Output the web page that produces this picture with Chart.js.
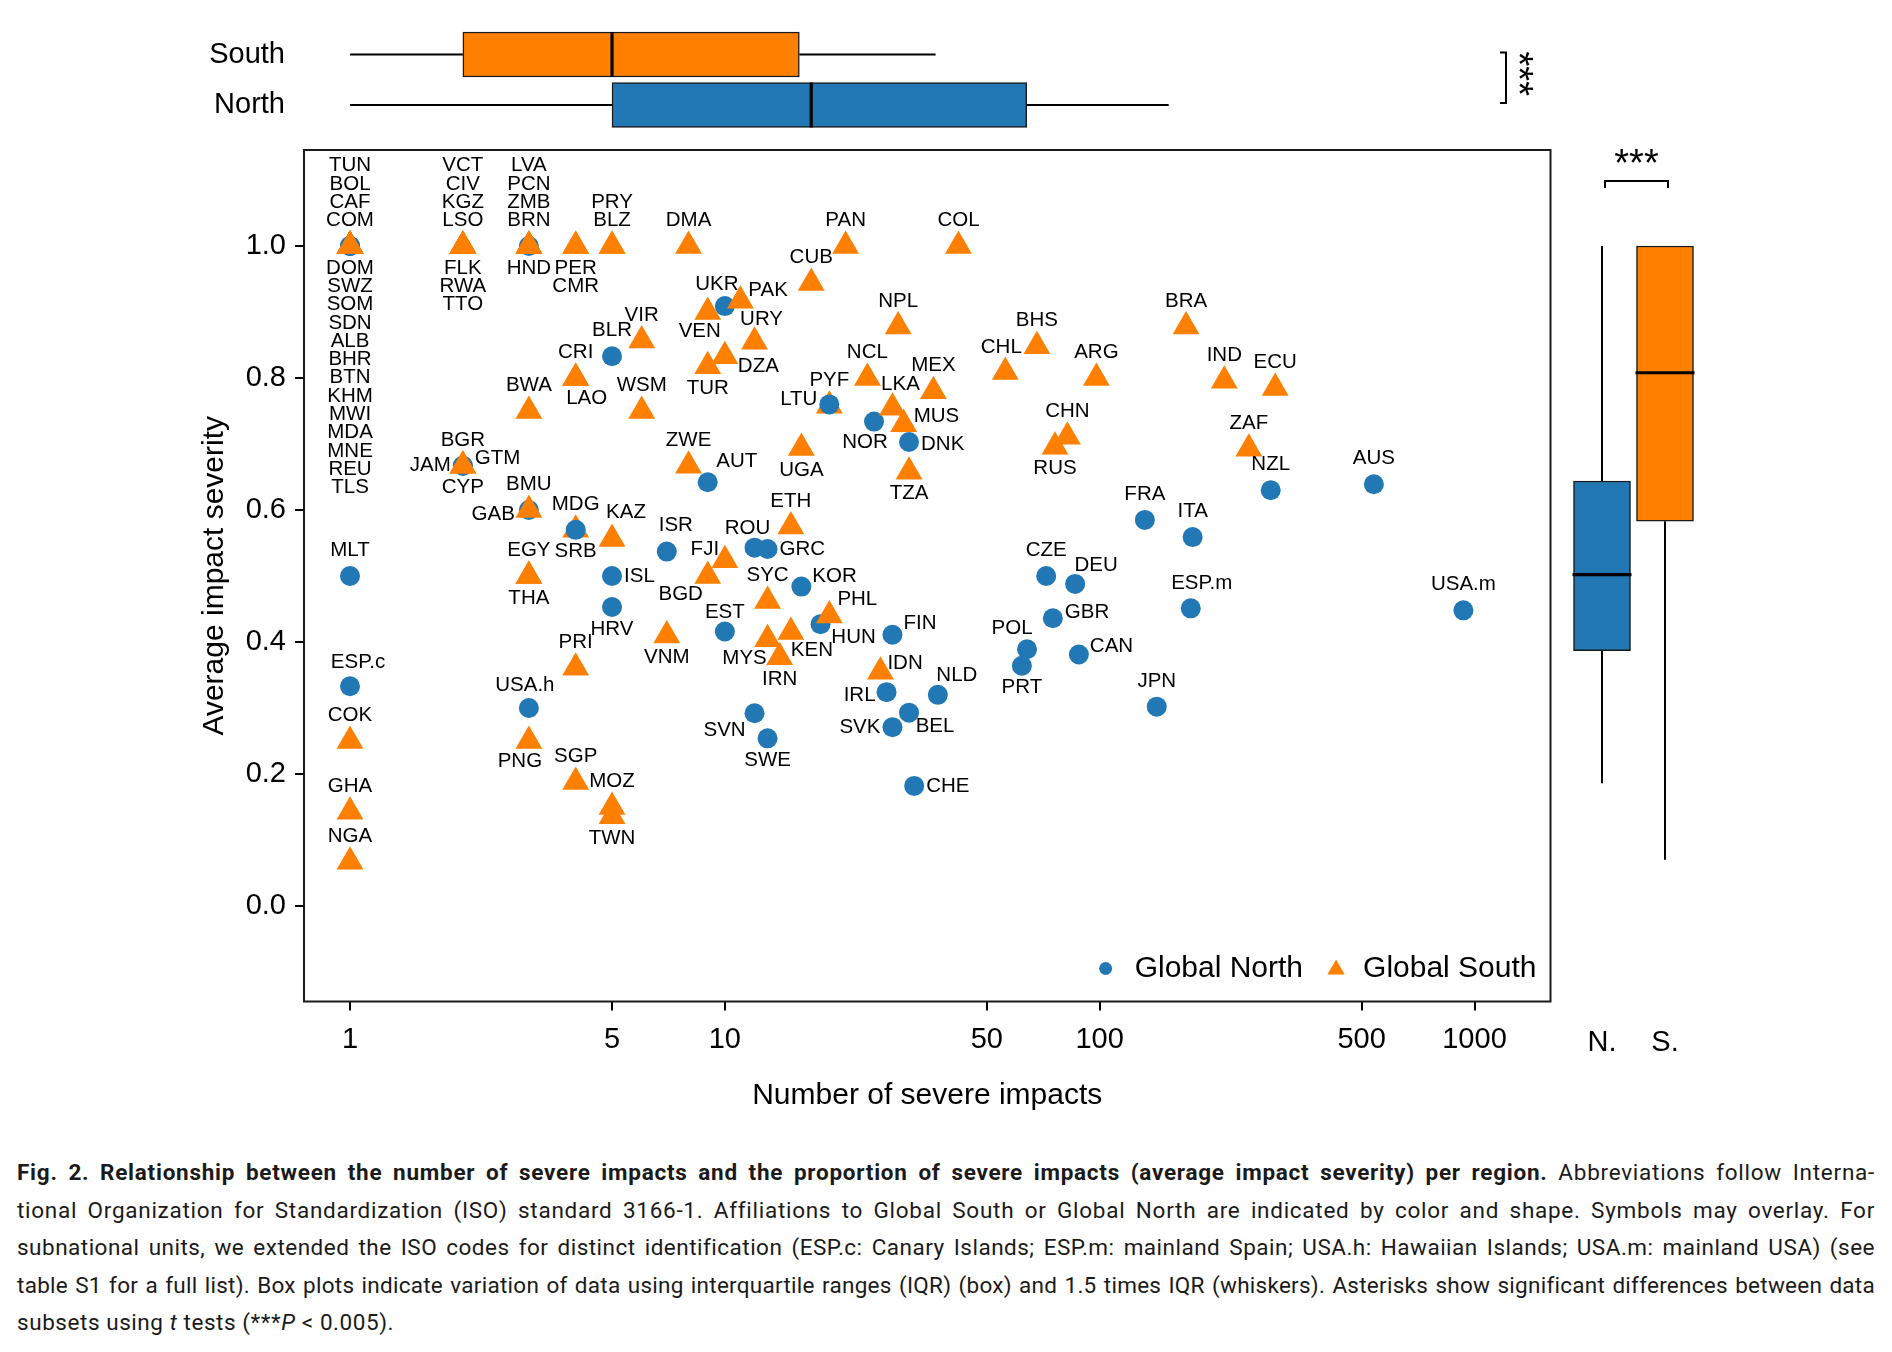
<!DOCTYPE html>
<html>
<head>
<meta charset="utf-8">
<script src="https://cdn.jsdelivr.net/npm/chart.js@4.4.0/dist/chart.umd.min.js"></script>
<style>
  html, body { margin: 0; padding: 0; background: #fff; }
  #fig { position: relative; width: 1892px; height: 1352px; overflow: hidden; background: #fff; }
  #mainWrap { position: absolute; left: 0; top: 0; width: 1892px; height: 1130px; }
  #topWrap { position: absolute; left: 0; top: 0; width: 1892px; height: 150px; }
  #sideWrap { position: absolute; left: 1560px; top: 0; width: 332px; height: 1130px; }
  #caption { position: absolute; left: 17px; top: 1154px; width: 1859px; font-family: Roboto, "Liberation Sans", sans-serif; font-size: 22.5px; color: #1a1a1a; }
  .cap-line { height: 37.5px; line-height: 37.5px; white-space: nowrap; }
  .cap-line span { display: inline-block; white-space: nowrap; }
</style>
</head>
<body>
<div id="fig">
  <div id="mainWrap"><canvas id="mainChart"></canvas></div>
  <div id="topWrap"><canvas id="topChart"></canvas></div>
  <div id="sideWrap"><canvas id="sideChart"></canvas></div>
  <div id="caption">
    <div class="cap-line"><span><b>Fig. 2. Relationship between the number of severe impacts and the proportion of severe impacts (average impact severity) per region.</b> Abbreviations follow Interna-</span></div>
    <div class="cap-line"><span>tional Organization for Standardization (ISO) standard 3166-1. Affiliations to Global South or Global North are indicated by color and shape. Symbols may overlay. For</span></div>
    <div class="cap-line"><span>subnational units, we extended the ISO codes for distinct identification (ESP.c: Canary Islands; ESP.m: mainland Spain; USA.h: Hawaiian Islands; USA.m: mainland USA) (see</span></div>
    <div class="cap-line"><span>table S1 for a full list). Box plots indicate variation of data using interquartile ranges (IQR) (box) and 1.5 times IQR (whiskers). Asterisks show significant differences between data</span></div>
    <div class="cap-line last"><span>subsets using <i>t</i> tests (***<i>P</i> &lt; 0.005).</span></div>
  </div>
</div>
<script>
// ---- data ----
const codes = [
  'TUN','BOL','CAF','COM','DOM','SWZ','SOM','SDN','ALB','BHR','BTN','KHM','MWI','MDA','MNE','REU','TLS',
  'MLT','ESP.c','COK','GHA','NGA',
  'VCT','CIV','KGZ','LSO','FLK','RWA','TTO','BGR','CYP','JAM','GTM',
  'LVA','PCN','ZMB','BRN','HND','BWA','BMU','GAB','EGY','THA','USA.h','PNG',
  'PER','CMR','CRI','LAO','MDG','SRB','PRI','SGP',
  'PRY','BLZ','BLR','KAZ','ISL','HRV','MOZ','TWN',
  'VIR','WSM','ISR','VNM','DMA','ZWE',
  'VEN','TUR','AUT','BGD','UKR','DZA','FJI','EST','PAK',
  'URY','ROU','SVN','GRC','SYC','MYS','SWE','IRN','ETH','KEN','UGA','KOR','CUB','HUN',
  'PYF','LTU','PHL','PAN','NCL','NOR','IDN','IRL','LKA','FIN','SVK','NPL','MUS','DNK','TZA','BEL','CHE',
  'MEX','NLD','COL','CHL','PRT','POL','BHS','CZE','GBR','RUS','CHN','DEU','CAN','ARG',
  'FRA','JPN','BRA','ESP.m','ITA','IND','ZAF','NZL','ECU','AUS','USA.m'
];
const region = [
  'S','S','S','S','S','S','S','S','N','S','S','S','S','N','N','S','S',
  'N','N','S','S','S',
  'S','S','S','S','S','S','S','N','N','S','S',
  'N','S','S','S','S','S','N','S','S','S','N','S',
  'S','S','S','S','S','N','S','S',
  'S','S','N','S','N','N','S','S',
  'S','S','N','S','S','S',
  'S','S','N','S','N','S','S','N','S',
  'S','N','N','N','S','S','N','S','S','S','S','N','S','N',
  'S','N','S','S','S','N','S','N','S','N','N','S','S','N','S','N','N',
  'S','N','S','S','N','N','S','N','N','S','S','N','N','S',
  'N','N','S','N','N','S','S','N','S','N','N'
];
const impacts = [
  1,1,1,1,1,1,1,1,1,1,1,1,1,1,1,1,1,
  1,1,1,1,1,
  2,2,2,2,2,2,2,2,2,2,2,
  3,3,3,3,3,3,3,3,3,3,3,3,
  4,4,4,4,4,4,4,4,
  5,5,5,5,5,5,5,5,
  6,6,7,7,8,8,
  9,9,9,9,10,10,10,10,11,
  12,12,12,13,13,13,13,14,15,15,16,16,17,18,
  19,19,19,21,24,25,26,27,28,28,28,29,30,31,31,31,32,
  36,37,42,56,62,64,68,72,75,76,82,86,88,98,
  132,142,170,175,177,215,250,286,294,539,934
];
const severity = [
  1,1,1,1,1,1,1,1,1,1,1,1,1,1,1,1,1,
  0.5,0.333,0.25,0.143,0.067,
  1,1,1,1,1,1,1,0.667,0.667,0.667,0.667,
  1,1,1,1,1,0.75,0.6,0.6,0.5,0.5,0.3,0.25,
  1,1,0.8,0.8,0.57,0.57,0.361,0.188,
  1,1,0.833,0.556,0.5,0.453,0.15,0.136,
  0.857,0.75,0.537,0.41,1,0.667,
  0.9,0.818,0.642,0.5,0.909,0.833,0.524,0.416,0.917,
  0.855,0.543,0.292,0.541,0.462,0.404,0.254,0.377,0.575,0.415,0.694,0.484,0.944,0.427,
  0.758,0.76,0.44,1,0.8,0.734,0.355,0.324,0.755,0.411,0.271,0.878,0.73,0.703,0.658,0.293,0.182,
  0.78,0.32,1,0.809,0.364,0.389,0.848,0.5,0.436,0.696,0.711,0.488,0.381,0.8,
  0.585,0.302,0.878,0.451,0.559,0.796,0.693,0.63,0.785,0.639,0.448
];

const xTicks = [1, 5, 10, 50, 100, 500, 1000];
const yTicks = [0, 0.2, 0.4, 0.6, 0.8, 1.0];

// box plot of number of severe impacts (top)
const topGroups = ['South', 'North'];
const topMin = [1, 1];
const topQ1 = [2.0, 5];
const topMedian = [5, 17];
const topQ3 = [15.8, 63.9];
const topMax = [36.5, 152.8];

// box plot of average impact severity (right)
const sideGroups = ['N.', 'S.'];
const sideMin = [0.186, 0.07];
const sideQ1 = [0.387, 0.583];
const sideMedian = [0.502, 0.808];
const sideQ3 = [0.644, 1.0];
const sideMax = [1.0, 1.0];

// ---- layout / style ----
const BLUE = '#2178b4';
const ORANGE = '#ff7f00';
const FONT = '"Liberation Sans", Arial, sans-serif';
const X_RANGE = [0.7537, 1595];
const Y_RANGE = [-0.1447, 1.1455];

// where each country label sits relative to its symbol; default is above
const labelPlacement = {
  DOM:'b', SWZ:'b', SOM:'b', SDN:'b', ALB:'b', BHR:'b', BTN:'b', KHM:'b', MWI:'b', MDA:'b', MNE:'b', REU:'b', TLS:'b',
  FLK:'b', RWA:'b', TTO:'b', CYP:'b', HND:'b', THA:'b', PER:'b', CMR:'b', SRB:'b', HRV:'b', TWN:'b',
  VNM:'b', TUR:'b', SWE:'b', IRN:'b', UGA:'b', TZA:'b', PRT:'b', RUS:'b',
  JAM:'l', SVK:'l', LTU:['l',-12,-5], IRL:['l',-11,3], GAB:['l',-14,4],
  ISL:'r', GRC:'r', CHE:'r', GTM:['r',12,-7], DZA:['r',13,10], PAK:['r',8,-10], KOR:['r',11,-10],
  IDN:['r',7,-8], FIN:['r',11,-11], MUS:['r',10,-8], DNK:['r',12,2], GBR:['r',12,-6], CAN:['r',11,-8],
  'ESP.c':['c',8,-24], 'USA.h':['c',-4,-23], PNG:['c',-9,20], LAO:['c',11,20], KAZ:['c',14,-27],
  ISR:['c',9,-26], VEN:['c',-8,19], AUT:['c',29,-21], BGD:['c',-27,18], UKR:['c',-8,-22],
  FJI:['c',-20,-11], EST:['c',0,-19], URY:['c',7,-22], ROU:['c',-7,-19], SVN:['c',-30,17],
  MYS:['c',-23,19], KEN:['c',21,18], HUN:['c',33,13], PHL:['c',28,-16], NOR:['c',-9,21],
  LKA:['c',8,-23], BEL:['c',26,14], NLD:['c',19,-19], CHL:['c',-4,-25], POL:['c',-15,-21],
  DEU:['c',21,-19], 'ESP.m':['c',11,-25]
};
const SIDES = { t: ['c', 0, -25.5], b: ['c', 0, 22], l: ['l', -12, 0], r: ['r', 12, 0] };
const LINE = 18.3;

Chart.defaults.font.family = FONT;
Chart.defaults.color = '#000';

function drawMarker(ctx, style, radius, color, x, y) {
  ctx.fillStyle = color;
  if (Chart.helpers && Chart.helpers.drawPoint) {
    Chart.helpers.drawPoint(ctx, { pointStyle: style, radius: radius, rotation: 0, borderWidth: 0 }, x, y);
  } else {
    ctx.beginPath();
    if (style === 'circle') ctx.arc(x, y, radius, 0, Math.PI * 2);
    else { ctx.moveTo(x, y - radius); ctx.lineTo(x + radius * 0.866, y + radius / 2); ctx.lineTo(x - radius * 0.866, y + radius / 2); }
    ctx.fill();
  }
}

// nudge layout padding until the plot area sits where the figure has it
function pinArea(chart, want) {
  for (let k = 0; k < 4; k++) {
    const a = chart.chartArea;
    const p = Object.assign({}, chart.options.layout.padding);
    const d = { top: want.top - a.top, bottom: a.bottom - want.bottom, left: want.left - a.left, right: a.right - want.right };
    if (Math.abs(d.top) + Math.abs(d.bottom) + Math.abs(d.left) + Math.abs(d.right) < 0.5) break;
    chart.options.layout.padding = { top: p.top + d.top, bottom: p.bottom + d.bottom, left: p.left + d.left, right: p.right + d.right };
    chart.update('none');
  }
}

const framePlugin = {
  id: 'frame',
  afterDraw(chart) {
    const { ctx, chartArea: a } = chart;
    ctx.save();
    ctx.strokeStyle = '#1a1a1a';
    ctx.lineWidth = 2;
    ctx.strokeRect(a.left, a.top, a.right - a.left, a.bottom - a.top);
    ctx.restore();
  }
};

const countryLabels = {
  id: 'countryLabels',
  afterDatasetsDraw(chart) {
    const { ctx } = chart;
    const xs = chart.scales.x, ys = chart.scales.y;
    const sideOf = c => labelPlacement[c] || 't';
    const keyOf = i => impacts[i] + '|' + severity[i] + '|' + sideOf(codes[i]);
    const counts = {}, seen = {};
    codes.forEach((c, i) => { const k = keyOf(i); counts[k] = (counts[k] || 0) + 1; });
    ctx.save();
    ctx.font = '20.5px ' + FONT;
    ctx.fillStyle = '#000';
    ctx.textBaseline = 'middle';
    codes.forEach((c, i) => {
      const px = xs.getPixelForValue(impacts[i]);
      const py = ys.getPixelForValue(severity[i]);
      const side = sideOf(c);
      const p = typeof side === 'string' ? SIDES[side] : side;
      let dy = p[2];
      if (typeof side === 'string') {
        const k = keyOf(i);
        const n = counts[k];
        const idx = seen[k] || 0;
        seen[k] = idx + 1;
        if (side === 't') dy -= (n - 1 - idx) * LINE;
        if (side === 'b') dy += idx * LINE;
      }
      ctx.textAlign = p[0] === 'c' ? 'center' : (p[0] === 'l' ? 'right' : 'left');
      ctx.fillText(c, px + p[1], py + dy);
    });
    ctx.restore();
  }
};

const legendPlugin = {
  id: 'cornerLegend',
  afterDraw(chart) {
    const { ctx, chartArea: a } = chart;
    ctx.save();
    ctx.font = '30px ' + FONT;
    ctx.textBaseline = 'middle';
    ctx.textAlign = 'left';
    const y = a.bottom - 33;
    const wS = ctx.measureText('Global South').width;
    const wN = ctx.measureText('Global North').width;
    const xS = a.right - 14 - wS;
    const triX = xS - 27;
    const xN = triX - 33 - wN;
    const circX = xN - 29;
    drawMarker(ctx, 'circle', 6.5, BLUE, circX, y);
    drawMarker(ctx, 'triangle', 10, ORANGE, triX, y + 1);
    ctx.fillStyle = '#000';
    ctx.fillText('Global North', xN, y);
    ctx.fillText('Global South', xS, y);
    ctx.restore();
  }
};

// main scatter
const mainChart = new Chart(document.getElementById('mainChart'), {
  type: 'scatter',
  data: {
    datasets: [{
      data: impacts.map((v, i) => ({ x: v, y: severity[i] })),
      pointStyle: ctx => region[ctx.dataIndex] === 'N' ? 'circle' : 'triangle',
      radius: ctx => region[ctx.dataIndex] === 'N' ? 10 : 15.5,
      backgroundColor: ctx => region[ctx.dataIndex] === 'N' ? BLUE : ORANGE,
      borderWidth: 0,
      hoverRadius: ctx => region[ctx.dataIndex] === 'N' ? 10 : 15.5
    }]
  },
  options: {
    responsive: true,
    maintainAspectRatio: false,
    animation: false,
    layout: { padding: { left: 193, right: 341.5, top: 150, bottom: 12 } },
    plugins: { legend: { display: false }, tooltip: { enabled: false } },
    scales: {
      x: {
        type: 'logarithmic',
        min: X_RANGE[0], max: X_RANGE[1],
        afterBuildTicks: s => { s.ticks = xTicks.map(v => ({ value: v })); },
        afterFit: s => { s.height = 116.5; },
        grid: { drawOnChartArea: false, drawTicks: true, tickLength: 9, color: '#000', lineWidth: 2 },
        border: { display: false },
        ticks: { font: { size: 29 }, color: '#000', padding: 12, autoSkip: false, maxRotation: 0, callback: v => String(v) },
        title: { display: true, text: 'Number of severe impacts', font: { size: 30 }, color: '#000', padding: { top: 0, bottom: 4 } }
      },
      y: {
        min: Y_RANGE[0], max: Y_RANGE[1],
        afterBuildTicks: s => { s.ticks = yTicks.map(v => ({ value: v })); },
        afterFit: s => { s.width = 111; },
        grid: { drawOnChartArea: false, drawTicks: true, tickLength: 9, color: '#000', lineWidth: 2 },
        border: { display: false },
        ticks: { font: { size: 29 }, color: '#000', padding: 9, callback: v => Number(v).toFixed(1) },
        title: { display: true, text: 'Average impact severity', font: { size: 30 }, color: '#000', padding: { top: 4, bottom: 0 } }
      }
    }
  },
  plugins: [framePlugin, countryLabels, legendPlugin]
});
pinArea(mainChart, { left: 304, right: 1550.5, top: 150, bottom: 1001.5 });

// whiskers + medians for the floating-bar box plots
function boxParts(horizontal, mins, medians, q1s, q3s, maxs, half) {
  return {
    id: 'boxParts',
    beforeDatasetsDraw(chart) {
      const { ctx } = chart;
      const vs = horizontal ? chart.scales.x : chart.scales.y;
      const cs = horizontal ? chart.scales.y : chart.scales.x;
      ctx.save();
      ctx.strokeStyle = '#000';
      ctx.lineWidth = 2;
      mins.forEach((m, i) => {
        const c = cs.getPixelForValue(i);
        const segs = [[m, q1s[i]], [q3s[i], maxs[i]]];
        segs.forEach(([a, b]) => {
          const pa = vs.getPixelForValue(a), pb = vs.getPixelForValue(b);
          ctx.beginPath();
          if (horizontal) { ctx.moveTo(pa, c); ctx.lineTo(pb, c); }
          else { ctx.moveTo(c, pa); ctx.lineTo(c, pb); }
          ctx.stroke();
        });
      });
      ctx.restore();
    },
    afterDatasetsDraw(chart) {
      const { ctx } = chart;
      const vs = horizontal ? chart.scales.x : chart.scales.y;
      const cs = horizontal ? chart.scales.y : chart.scales.x;
      ctx.save();
      ctx.strokeStyle = '#000';
      ctx.lineWidth = 3.2;
      medians.forEach((m, i) => {
        const c = cs.getPixelForValue(i);
        const p = vs.getPixelForValue(m);
        ctx.beginPath();
        if (horizontal) { ctx.moveTo(p, c - half); ctx.lineTo(p, c + half); }
        else { ctx.moveTo(c - half, p); ctx.lineTo(c + half, p); }
        ctx.stroke();
      });
      ctx.restore();
    }
  };
}

const topSig = {
  id: 'topSig',
  afterDraw(chart) {
    const { ctx } = chart;
    const ys = chart.scales.y;
    const y1 = ys.getPixelForValue(0) - 2, y2 = ys.getPixelForValue(1) - 2;
    const bx = 1506;
    ctx.save();
    ctx.strokeStyle = '#000';
    ctx.lineWidth = 2;
    ctx.beginPath();
    ctx.moveTo(bx - 6, y1); ctx.lineTo(bx, y1); ctx.lineTo(bx, y2); ctx.lineTo(bx - 6, y2);
    ctx.stroke();
    ctx.translate(1528, (y1 + y2) / 2 - 4);
    ctx.rotate(Math.PI / 2);
    ctx.fillStyle = '#000';
    ctx.font = '38px ' + FONT;
    ctx.textAlign = 'center';
    ctx.textBaseline = 'alphabetic';
    ctx.fillText('***', 0, 0.58 * 38);
    ctx.restore();
  }
};

const topChart = new Chart(document.getElementById('topChart'), {
  type: 'bar',
  data: {
    labels: topGroups,
    datasets: [{
      data: topQ1.map((v, i) => [v, topQ3[i]]),
      backgroundColor: [ORANGE, BLUE],
      borderColor: '#1a1a1a',
      borderWidth: 1.5,
      borderSkipped: false,
      barThickness: 45
    }]
  },
  options: {
    indexAxis: 'y',
    responsive: true,
    maintainAspectRatio: false,
    animation: false,
    layout: { autoPadding: false, padding: { left: 100, right: 341.5, top: 29.25, bottom: 19.75 } },
    plugins: { legend: { display: false }, tooltip: { enabled: false } },
    scales: {
      x: { type: 'logarithmic', min: X_RANGE[0], max: X_RANGE[1], display: false },
      y: {
        afterFit: s => { s.width = 204; s.paddingTop = 0; s.paddingBottom = 0; },
        grid: { display: false, drawTicks: false },
        border: { display: false },
        ticks: { font: { size: 29 }, color: '#000', padding: 19 }
      }
    }
  },
  plugins: [boxParts(true, topMin, topMedian, topQ1, topQ3, topMax, 22.5), topSig]
});
pinArea(topChart, { left: 304, right: 1550.5, top: 29.25, bottom: 130.25 });

const sideSig = {
  id: 'sideSig',
  afterDraw(chart) {
    const { ctx } = chart;
    const xs = chart.scales.x;
    const x1 = xs.getPixelForValue(0) + 3, x2 = xs.getPixelForValue(1) + 3;
    const by = 181;
    ctx.save();
    ctx.strokeStyle = '#000';
    ctx.lineWidth = 2;
    ctx.beginPath();
    ctx.moveTo(x1, by + 7); ctx.lineTo(x1, by); ctx.lineTo(x2, by); ctx.lineTo(x2, by + 7);
    ctx.stroke();
    ctx.fillStyle = '#000';
    ctx.font = '38px ' + FONT;
    ctx.textAlign = 'center';
    ctx.textBaseline = 'alphabetic';
    ctx.fillText('***', (x1 + x2) / 2, 154 + 0.58 * 38);
    ctx.restore();
  }
};

const sideChart = new Chart(document.getElementById('sideChart'), {
  type: 'bar',
  data: {
    labels: sideGroups,
    datasets: [{
      data: sideQ1.map((v, i) => [v, sideQ3[i]]),
      backgroundColor: [BLUE, ORANGE],
      borderColor: '#1a1a1a',
      borderWidth: 1.5,
      borderSkipped: false,
      barThickness: 57
    }]
  },
  options: {
    responsive: true,
    maintainAspectRatio: false,
    animation: false,
    layout: { padding: { left: 10.5, right: 195.5, top: 150, bottom: 12 } },
    plugins: { legend: { display: false }, tooltip: { enabled: false } },
    scales: {
      x: {
        afterFit: s => { s.height = 116.5; },
        grid: { display: false, drawTicks: false },
        border: { display: false },
        ticks: { font: { size: 29 }, color: '#000', padding: 24 }
      },
      y: { min: Y_RANGE[0], max: Y_RANGE[1], display: false }
    }
  },
  plugins: [boxParts(false, sideMin, sideMedian, sideQ1, sideQ3, sideMax, 29.5), sideSig]
});
pinArea(sideChart, { left: 10.5, right: 136.5, top: 150, bottom: 1001.5 });

// caption: justify each line to the full width
function fitCaption() {
  const box = document.getElementById('caption');
  const target = box.clientWidth;
  let lsTotal = 0, lsCount = 0;
  const lines = Array.from(box.querySelectorAll('.cap-line'));
  lines.forEach(line => {
    const span = line.firstElementChild;
    span.style.letterSpacing = '0px';
    span.style.wordSpacing = '0px';
    if (line.classList.contains('last')) return;
    const text = span.textContent;
    let w = span.getBoundingClientRect().width;
    const ls = (target - w) * (w < target ? 0.55 : 1.02) / text.length;
    span.style.letterSpacing = ls + 'px';
    lsTotal += ls; lsCount++;
    w = span.getBoundingClientRect().width;
    const spaces = (text.match(/ /g) || []).length;
    if (spaces) span.style.wordSpacing = Math.max(0, (target - w - 1) / spaces) + 'px';
  });
  const last = lines[lines.length - 1].firstElementChild;
  if (lsCount) last.style.letterSpacing = (lsTotal / lsCount) + 'px';
}
fitCaption();
if (document.fonts && document.fonts.ready) document.fonts.ready.then(fitCaption);
</script>
</body>
</html>
